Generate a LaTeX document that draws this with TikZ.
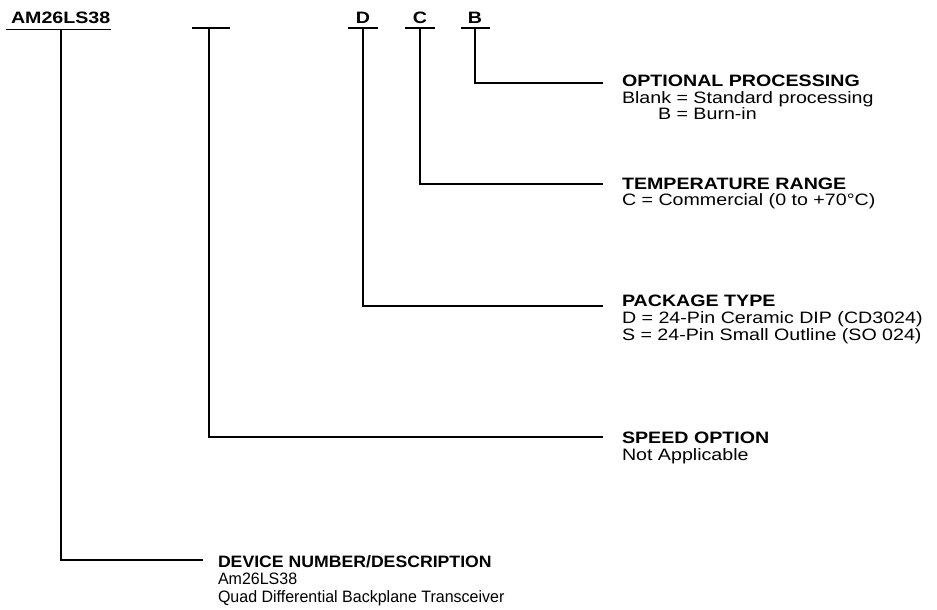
\documentclass[tikz,border=0pt]{standalone}
\usepackage{fontspec}
\setmainfont{Liberation Sans}
\newfontfamily\widefam[FakeStretch=1.19]{Liberation Sans}
\newfontfamily\narrowfam[FakeStretch=0.97]{Liberation Sans}
\newfontfamily\devfam[FakeStretch=1.07]{Liberation Sans}
\begin{document}
\begin{tikzpicture}[x=1pt,y=-1pt,
  wire/.style={line width=1.8pt, line cap=butt},
  wtxt/.style={anchor=base west, inner sep=0pt, outer sep=0pt, font=\widefam\fontsize{16.5}{18}\selectfont},
  wttl/.style={wtxt, font=\widefam\bfseries\fontsize{16.5}{18}\selectfont},
  ntxt/.style={anchor=base west, inner sep=0pt, outer sep=0pt, font=\narrowfam\fontsize{16.5}{18}\selectfont},
  nttl/.style={ntxt, font=\devfam\bfseries\fontsize{16.5}{18}\selectfont},
  toplbl/.style={anchor=base, inner sep=0pt, outer sep=0pt, font=\widefam\bfseries\fontsize{16.5}{18}\selectfont}]
\useasboundingbox (0,0) rectangle (937,610);

% top code labels
\node[wtxt, font=\widefam\bfseries\fontsize{16.5}{18}\selectfont] (am) at (11,24) {AM26LS38};
\node[toplbl] (dl) at (363,23.5) {D};
\node[toplbl] (cl) at (420,23.5) {C};
\node[toplbl] (bl) at (475,23.5) {B};

% bars under labels
\coordinate (amL) at (6,29.5);   \coordinate (amR) at (111,29.5);
\coordinate (spL) at (192,28);   \coordinate (spR) at (230,28);
\coordinate (dL) at (348,28);    \coordinate (dR) at (378,28);
\coordinate (cL) at (405,28);    \coordinate (cR) at (435,28);
\coordinate (bL) at (461,28);    \coordinate (bR) at (490,28);
\draw[wire] (amL) -- (amR);
\draw[wire] (spL) -- (spR);
\draw[wire] (dL) -- (dR);
\draw[wire] (cL) -- (cR);
\draw[wire] (bL) -- (bR);

% stem tops
\coordinate (amS) at (61,29.5);
\coordinate (spS) at (209,28);
\coordinate (dS) at (363,28);
\coordinate (cS) at (420,28);
\coordinate (bS) at (475,28);

% leader ends
\coordinate (bE) at (603,83);
\coordinate (cE) at (603,184);
\coordinate (dE) at (603,306);
\coordinate (spE) at (603,437);
\coordinate (amE) at (203,560);

\draw[wire] (bS) |- (bE);
\draw[wire] (cS) |- (cE);
\draw[wire] (dS) |- (dE);
\draw[wire] (spS) |- (spE);
\draw[wire] (amS) |- (amE);

% descriptions
\node[wttl] (opt0) at (622,87) {OPTIONAL PROCESSING};
\node[wtxt] (opt1) at (622,103.5) {Blank = Standard processing};
\node[wtxt] (opt2) at (622,119) {\hphantom{Blank}\llap{B} = Burn-in};

\node[wttl] (tmp0) at (622,189.5) {TEMPERATURE RANGE};
\node[wtxt] (tmp1) at (622,205.5) {C = Commercial (0 to +70°C)};

\node[wttl] (pkg0) at (622,306) {PACKAGE TYPE};
\node[wtxt] (pkg1) at (622,323.5) {D = 24-Pin Ceramic DIP (CD3024)};
\node[wtxt] (pkg2) at (622,340) {S = 24-Pin Small Outline (SO 024)};

\node[wttl] (spd0) at (622,443.5) {SPEED OPTION};
\node[wtxt] (spd1) at (622,460) {Not Applicable};

\node[nttl] (dev0) at (218,567) {DEVICE NUMBER/DESCRIPTION};
\node[ntxt] (dev1) at (218,584.5) {Am26LS38};
\node[ntxt] (dev2) at (218,602) {Quad Differential Backplane Transceiver};
\end{tikzpicture}
\end{document}
